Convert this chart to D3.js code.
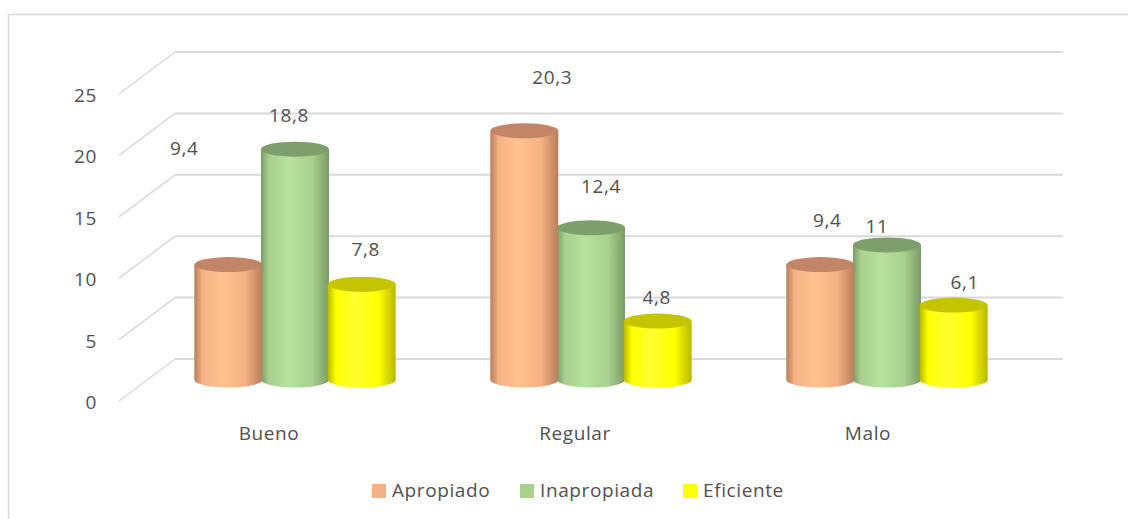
<!DOCTYPE html>
<html><head><meta charset="utf-8">
<script src="https://cdn.jsdelivr.net/npm/d3@7"></script>
<style>
html,body{margin:0;padding:0;background:#fff;}
text{font-family:"Open Sans","Noto Sans",sans-serif;fill:#505050;letter-spacing:0.6px;}
</style></head>
<body>
<svg id="c" width="1128" height="519"></svg>
<script>
const categories = ["Bueno", "Regular", "Malo"];
const seriesNames = ["Apropiado", "Inapropiada", "Eficiente"];
const apropiado = [9.4, 20.3, 9.4];
const inapropiada = [18.8, 12.4, 11];
const eficiente = [7.8, 4.8, 6.1];
const valueLabels = [["9,4","18,8","7,8"],["20,3","12,4","4,8"],["9,4","11","6,1"]];
const yTicks = [0, 5, 10, 15, 20, 25];
// label offsets relative to bar top (layout config)
const labelDx = [[-44,-6,4],[28,10,-1],[7,-10,11]];
const labelDy = [[-115,-32,-33],[-52,-40,-22],[-43,-17,-21]];

const series = [apropiado, inapropiada, eficiente];
const colors = {
  base: ["#F4B183", "#A9D18E", "#FFFF00"],
  light: ["#FFC290", "#B6E09C", "#FFFF30"],
  dark: ["#B97E59", "#7A9C66", "#B8B800"],
  top: ["#C28566", "#7E9E6B", "#C4C400"]
};

const svg = d3.select("#c");
const defs = svg.append("defs");
series.forEach((s, i) => {
  const g = defs.append("linearGradient").attr("id", "g" + i).attr("x1", "0").attr("x2", "1").attr("y1", "0").attr("y2", "0");
  g.append("stop").attr("offset", "0%").attr("stop-color", colors.dark[i]);
  g.append("stop").attr("offset", "12%").attr("stop-color", colors.base[i]);
  g.append("stop").attr("offset", "40%").attr("stop-color", colors.light[i]);
  g.append("stop").attr("offset", "75%").attr("stop-color", colors.base[i]);
  g.append("stop").attr("offset", "100%").attr("stop-color", colors.dark[i]);
});

// chart border
svg.append("rect").attr("x", 8.5).attr("y", 14.5).attr("width", 1300).attr("height", 700)
  .attr("fill", "none").attr("stroke", "#d9d9d9").attr("stroke-width", 1.5);

// 3D geometry
const depthDx = 56, depthDy = -42;
const y = d3.scaleLinear().domain([0, 25]).range([401, 94]);
const x = d3.scaleBand().domain(categories).range([119, 1007]).paddingInner(0).paddingOuter(0);
const xs = d3.scaleBand().domain(d3.range(3)).range([-100, 100]);

// gridlines: diagonal side + back wall
const grid = svg.append("g");
yTicks.forEach(t => {
  grid.append("line").attr("x1", 119).attr("y1", y(t)).attr("x2", 119 + depthDx).attr("y2", y(t) + depthDy)
    .attr("stroke", "#d9d9d9").attr("stroke-width", 1.5);
  grid.append("line").attr("x1", 119 + depthDx).attr("y1", y(t) + depthDy).attr("x2", 1007 + depthDx).attr("y2", y(t) + depthDy)
    .attr("stroke", "#d9d9d9").attr("stroke-width", 2);
});

// y tick labels
svg.append("g").selectAll("text").data(yTicks).join("text")
  .attr("x", 97).attr("y", d => y(d) + 3).attr("text-anchor", "end").attr("dominant-baseline", "middle")
  .attr("font-size", 19).text(d => d);

// category labels
svg.append("g").selectAll("text").data(categories).join("text")
  .attr("x", (d, i) => x(d) + x.bandwidth() / 2 + [2, 12, 9][i]).attr("y", 435)
  .attr("text-anchor", "middle").attr("dominant-baseline", "middle").attr("font-size", 19).text(d => d);

// cylinders at mid depth
const midDx = depthDx / 2, midDy = depthDy / 2;
const rx = 34, ry = 7.5;
const bars = svg.append("g");
categories.forEach((c, ci) => {
  series.forEach((s, si) => {
    const v = s[ci];
    const cx = x(c) + x.bandwidth() / 2 + xs(si) + xs.bandwidth() / 2 + midDx;
    const yb = y(0) + midDy, yt = y(v) + midDy;
    const path = `M${cx - rx},${yt} L${cx - rx},${yb} A${rx},${ry} 0 0 0 ${cx + rx},${yb} L${cx + rx},${yt} Z`;
    bars.append("path").attr("d", path).attr("fill", `url(#g${si})`);
    bars.append("ellipse").attr("cx", cx).attr("cy", yt).attr("rx", rx).attr("ry", ry)
      .attr("fill", colors.top[si]);
    // label
    svg.append("text").attr("x", cx + labelDx[ci][si]).attr("y", yt + labelDy[ci][si])
      .attr("text-anchor", "middle").attr("dominant-baseline", "middle").attr("font-size", 19)
      .text(valueLabels[ci][si]);
  });
});

// legend
const legendX = [372, 520, 683];
const lg = svg.append("g");
seriesNames.forEach((n, i) => {
  lg.append("rect").attr("x", legendX[i]).attr("y", 484).attr("width", 14).attr("height", 14).attr("fill", colors.base[i]);
  lg.append("text").attr("x", legendX[i] + 20).attr("y", 492).attr("dominant-baseline", "middle").attr("font-size", 19).text(n);
});
</script>
</body></html>
